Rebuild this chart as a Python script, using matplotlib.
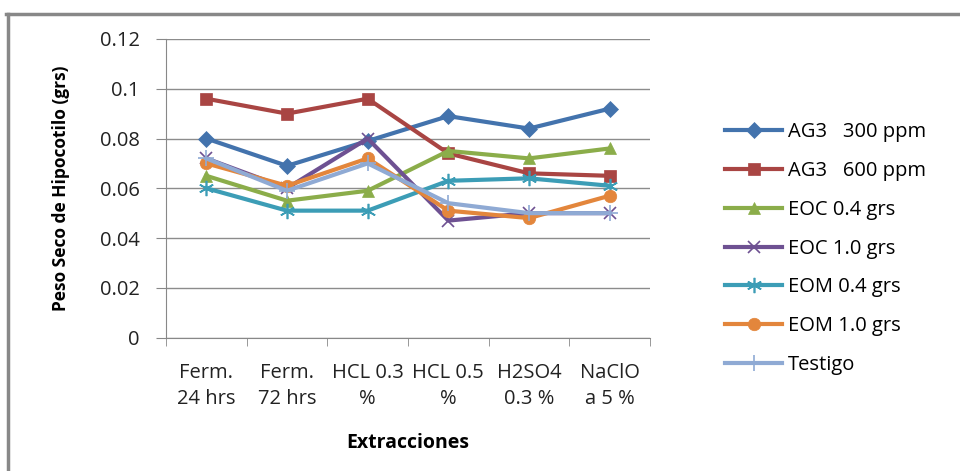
import matplotlib.pyplot as plt
from matplotlib.lines import Line2D

plt.rcParams['font.family'] = ['Open Sans', 'DejaVu Sans']

extracciones = ["Ferm.\n24 hrs", "Ferm.\n72 hrs", "HCL 0.3\n%", "HCL 0.5\n%",
                "H2SO4\n0.3 %", "NaClO\na 5 %"]

ag3_300 = [0.080, 0.069, 0.079, 0.089, 0.084, 0.092]
ag3_600 = [0.096, 0.090, 0.096, 0.074, 0.066, 0.065]
eoc_04 = [0.065, 0.055, 0.059, 0.075, 0.072, 0.076]
eoc_10 = [0.072, 0.060, 0.080, 0.047, 0.050, 0.050]
eom_04 = [0.060, 0.051, 0.051, 0.063, 0.064, 0.061]
eom_10 = [0.070, 0.061, 0.072, 0.051, 0.048, 0.057]
testigo = [0.072, 0.059, 0.070, 0.054, 0.050, 0.050]

series = [
    ("AG3   300 ppm", ag3_300, "#4373AD", "D", 8),
    ("AG3   600 ppm", ag3_600, "#A94543", "s", 9),
    ("EOC 0.4 grs", eoc_04, "#8BAD4A", "^", 9),
    ("EOC 1.0 grs", eoc_10, "#6E5192", "x", 9),
    ("EOM 0.4 grs", eom_04, "#3C9DB6", (6, 2, 0), 11),
    ("EOM 1.0 grs", eom_10, "#E3863C", "o", 9),
    ("Testigo", testigo, "#8FAAD4", "+", 11),
]

fig = plt.figure(figsize=(9.6, 4.71), dpi=100)
ax = fig.add_axes([0.1729, 0.2834, 0.5042, 0.6338])

x = range(len(extracciones))
for nombre, valores, color, marcador, tam in series:
    fino = marcador in ("x", "+") or isinstance(marcador, tuple)
    ax.plot(x, valores, color=color, lw=3.0, marker=marcador, markersize=tam,
            markeredgewidth=1.2 if fino else 0.5,
            markeredgecolor=color, markerfacecolor=color, label=nombre)

ax.set_xlim(-0.5, len(extracciones) - 0.5)
ax.set_ylim(0, 0.12)
ax.set_yticks([0, 0.02, 0.04, 0.06, 0.08, 0.1, 0.12])
ax.set_yticklabels(["0", "0.02", "0.04", "0.06", "0.08", "0.1", "0.12"])
ax.set_xticks(list(x))
ax.set_xticklabels(extracciones, linespacing=1.45)
ax.set_xticks([i - 0.5 for i in range(len(extracciones) + 1)], minor=True)
ax.tick_params(axis='x', which='major', length=0, pad=18, labelsize=14.5, colors="#222222")
ax.tick_params(axis='x', which='minor', length=6, color="#888888")
ax.tick_params(axis='y', length=7, color="#888888", labelsize=14.5, labelcolor="#222222", pad=12)

ax.grid(axis='y', color="#8c8c8c", lw=1.0)
ax.set_axisbelow(True)
for lado in ("top", "right"):
    ax.spines[lado].set_visible(False)
ax.spines["left"].set_color("#888888")
ax.spines["bottom"].set_color("#888888")

ax.set_ylabel("Peso Seco de Hipocotilo (grs)", fontsize=12.5, fontweight='bold', labelpad=21)
ax.set_xlabel("Extracciones", fontsize=14, fontweight='bold', labelpad=17)

ax.legend(loc='center left', bbox_to_anchor=(1.155, 0.298), frameon=False, fontsize=14.5,
          borderpad=0, borderaxespad=0, handlelength=2.85, labelspacing=0.93,
          handletextpad=0.26)

# marco del grafico
fig.add_artist(Line2D([0.006, 1.0], [0.971, 0.971], color="#888888", lw=2.5))
fig.add_artist(Line2D([0.008, 0.008], [0.0, 0.971], color="#888888", lw=2.5))

fig.savefig("out.png", dpi=100)
